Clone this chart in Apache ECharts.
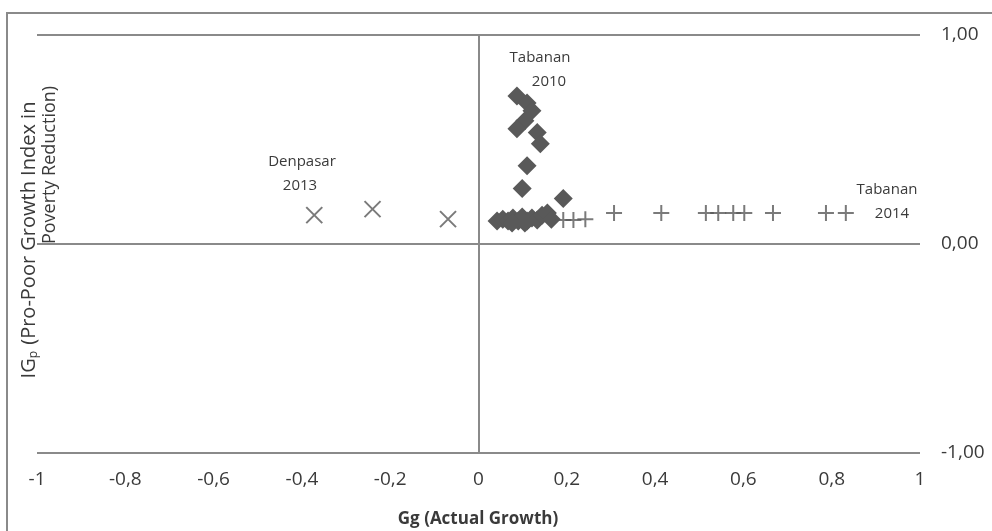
<!DOCTYPE html>
<html><head><meta charset="utf-8">
<script src="https://cdn.jsdelivr.net/npm/echarts@6/dist/echarts.min.js"></script>
<style>html,body{margin:0;padding:0;background:#fff}#c{width:992px;height:531px}</style>
</head><body><div id="c"></div>
<script>
// Axis ticks
const xTicks = [-1, -0.8, -0.6, -0.4, -0.2, 0, 0.2, 0.4, 0.6, 0.8, 1];
const yTicks = [-1, 0, 1];

// Diamonds (Tabanan series)
const diamondGg = [0.087, 0.110, 0.121, 0.105, 0.087, 0.133, 0.140, 0.110, 0.099, 0.192,
  0.042, 0.055, 0.067, 0.078, 0.090, 0.099, 0.110, 0.121, 0.133, 0.144, 0.156, 0.165, 0.076, 0.105];
const diamondIG = [0.708, 0.675, 0.637, 0.590, 0.552, 0.533, 0.480, 0.375, 0.266, 0.218,
  0.110, 0.119, 0.110, 0.124, 0.110, 0.129, 0.110, 0.124, 0.115, 0.138, 0.148, 0.119, 0.100, 0.100];

// Crosses (Denpasar series)
const crossGg = [-0.372, -0.240, -0.069];
const crossIG = [0.138, 0.167, 0.119];

// Pluses
const plusGg = [0.192, 0.215, 0.242, 0.307, 0.414, 0.515, 0.543, 0.577, 0.602, 0.667, 0.787, 0.832];
const plusIG = [0.115, 0.115, 0.119, 0.148, 0.148, 0.148, 0.148, 0.148, 0.148, 0.148, 0.148, 0.148];

const zip = (a, b) => a.map((v, i) => [v, b[i]]);
const gray = '#595959';
const lineGray = '#8a8a8a';
const textCol = '#3a3a3a';
const tickFont = "'Open Sans', sans-serif";
const labFont = "'Open Sans', sans-serif";

const chart = echarts.init(document.getElementById('c'), null, {renderer: 'canvas'});
chart.setOption({
  animation: false,
  backgroundColor: '#fff',
  grid: {left: 37, right: 72, top: 35, bottom: 78},
  xAxis: {
    type: 'value', min: -1, max: 1, interval: 0.2,
    axisLine: {show: false}, axisTick: {show: false}, splitLine: {show: false},
    axisLabel: {
      margin: 17, color: textCol, fontSize: 19, fontFamily: tickFont,
      formatter: v => {
        const r = Math.round(v * 10) / 10;
        return xTicks.some(t => Math.abs(t - r) < 1e-9) ? String(r).replace('.', ',') : '';
      }
    }
  },
  yAxis: {
    type: 'value', min: -1, max: 1, interval: 1, position: 'right',
    axisLine: {show: false}, axisTick: {show: false},
    splitLine: {show: true, lineStyle: {color: lineGray, width: 2}},
    axisLabel: {
      margin: 21, align: 'left', color: textCol, fontSize: 19, fontFamily: tickFont,
      formatter: v => yTicks.includes(Math.round(v)) ? Math.round(v).toFixed(2).replace('.', ',') : ''
    }
  },
  series: [
    {
      type: 'scatter', name: 'Tabanan', data: zip(diamondGg, diamondIG),
      symbol: 'diamond', symbolSize: 19,
      itemStyle: {color: gray, opacity: 1},
      markLine: {
        silent: true, symbol: 'none', label: {show: false},
        lineStyle: {color: lineGray, width: 2, type: 'solid'},
        data: [{xAxis: 0}]
      }
    },
    {
      type: 'scatter', name: 'Denpasar', data: zip(crossGg, crossIG),
      symbol: 'path://M0,0L10,10M10,0L0,10', symbolSize: 16,
      itemStyle: {color: 'none', borderColor: gray, borderWidth: 2}
    },
    {
      type: 'scatter', name: 'Plus', data: zip(plusGg, plusIG),
      symbol: 'path://M5,0L5,10M0,5L10,5', symbolSize: 16,
      itemStyle: {color: 'none', borderColor: gray, borderWidth: 2}
    }
  ],
  graphic: [
    {type: 'rect', shape: {x: 7, y: 13, width: 1100, height: 700}, style: {fill: 'none', stroke: lineGray, lineWidth: 2}, silent: true, z: -1},
    {type: 'text', x: 540, y: 58, style: {text: 'Tabanan', fontSize: 15, fontFamily: labFont, fill: textCol, textAlign: 'center', textVerticalAlign: 'middle'}},
    {type: 'text', x: 549, y: 82, style: {text: '2010', fontSize: 15, fontFamily: labFont, fill: textCol, textAlign: 'center', textVerticalAlign: 'middle'}},
    {type: 'text', x: 302, y: 162, style: {text: 'Denpasar', fontSize: 15, fontFamily: labFont, fill: textCol, textAlign: 'center', textVerticalAlign: 'middle'}},
    {type: 'text', x: 300, y: 186, style: {text: '2013', fontSize: 15, fontFamily: labFont, fill: textCol, textAlign: 'center', textVerticalAlign: 'middle'}},
    {type: 'text', x: 887, y: 190, style: {text: 'Tabanan', fontSize: 15, fontFamily: labFont, fill: textCol, textAlign: 'center', textVerticalAlign: 'middle'}},
    {type: 'text', x: 892, y: 214, style: {text: '2014', fontSize: 15, fontFamily: labFont, fill: textCol, textAlign: 'center', textVerticalAlign: 'middle'}},
    {type: 'text', x: 478, y: 519, style: {text: 'Gg (Actual Growth)', fontSize: 17, fontWeight: 'bold', fontFamily: labFont, fill: textCol, textAlign: 'center', textVerticalAlign: 'middle'}},
    {type: 'text', x: 29, y: 240, rotation: Math.PI / 2, style: {
      text: '{a|IG}{s|p}{a| (Pro-Poor Growth Index in}',
      rich: {a: {fontSize: 20, fontFamily: labFont, fill: textCol}, s: {fontSize: 12, fontFamily: labFont, fill: textCol, padding: [10, 1, 0, 0]}},
      textAlign: 'center', textVerticalAlign: 'middle'}},
    {type: 'text', x: 50, y: 165, rotation: Math.PI / 2, style: {text: 'Poverty Reduction)', fontSize: 18, fontFamily: labFont, fill: textCol, textAlign: 'center', textVerticalAlign: 'middle'}}
  ]
});
</script></body></html>
